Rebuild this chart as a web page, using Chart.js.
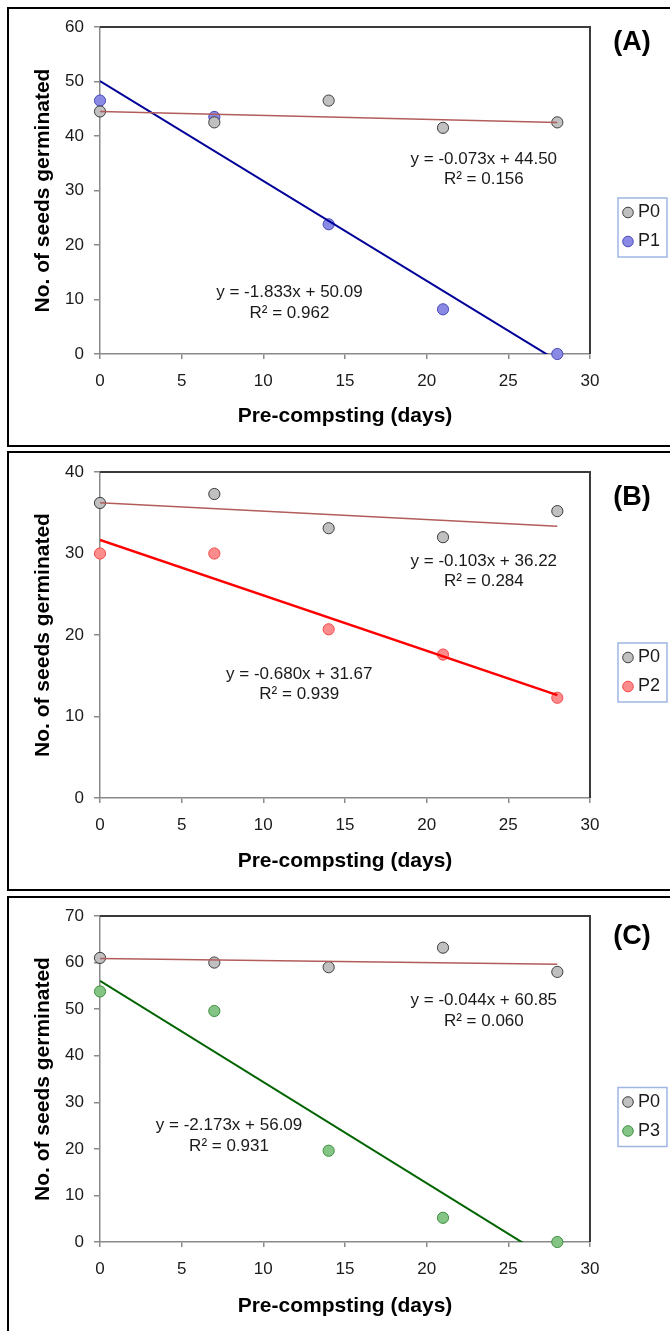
<!DOCTYPE html>
<html><head><meta charset="utf-8">
<script src="https://cdn.jsdelivr.net/npm/chart.js@4.4.1/dist/chart.umd.min.js"></script>
<style>
html,body{margin:0;padding:0;background:#fff;overflow:hidden;width:670px;height:1331px;position:relative}
.frame{position:absolute;left:7px;width:700px;border:2px solid #000;box-sizing:border-box}
.wrap{position:absolute;left:0;width:670px;height:445px}
</style></head><body>
<div class="frame" style="top:7px;height:440px"></div>
<div class="frame" style="top:451px;height:440px"></div>
<div class="frame" style="top:896px;height:500px"></div>
<div class="wrap" style="top:0px"><canvas id="cA"></canvas></div>
<div class="wrap" style="top:445px"><canvas id="cB"></canvas></div>
<div class="wrap" style="top:890px"><canvas id="cC"></canvas></div>
<script>
// ---------- data ----------
const days = [0, 7, 14, 21, 28];
const xMin = 0, xMax = 30, xStep = 5;
const yStep = 10;

// Panel A
const p0A = [44.5, 42.5, 46.5, 41.5, 42.5];
const p1A = [46.5, 43.5, 23.8, 8.2, 0];
const yMaxA = 60;
const fitA0 = [-0.073, 44.50];  // slope, intercept
const fitA1 = [-1.833, 50.09];
const r2A = ['0.156', '0.962'];

// Panel B
const p0B = [36.2, 37.3, 33.1, 32.0, 35.2];
const p2B = [30.0, 30.0, 20.7, 17.6, 12.3];
const yMaxB = 40;
const fitB0 = [-0.103, 36.22];
const fitB2 = [-0.680, 31.67];
const r2B = ['0.284', '0.939'];

// Panel C
const p0C = [61.0, 60.0, 59.0, 63.2, 58.0];
const p3C = [53.8, 49.6, 19.6, 5.2, 0];
const yMaxC = 70;
const fitC0 = [-0.044, 60.85];
const fitC3 = [-2.173, 56.09];
const r2C = ['0.060', '0.931'];

const seriesNames = ['P0', 'P1', 'P2', 'P3'];
const xTitle = 'Pre-compsting (days)';
const yTitle = 'No. of seeds germinated';

// ---------- styles ----------
const FONT = "'Liberation Sans', Arial, Helvetica, sans-serif";
const styles = {
  P0: {bg: '#c0c0c0', bd: '#3c3c3c', line: '#b35c5c', lw: 1.5},
  P1: {bg: '#8a8ae4', bd: '#4a4ab8', line: '#000099', lw: 2},
  P2: {bg: '#ff8c8c', bd: '#f04848', line: '#ff0000', lw: 2.5},
  P3: {bg: '#84c484', bd: '#3f8f3f', line: '#006400', lw: 2}
};

function fmtEq(f) {
  const m = f[0].toFixed(3), b = f[1].toFixed(2);
  return 'y = ' + m + 'x + ' + b;
}
function pts(vals) { return days.map((d, i) => ({x: d, y: vals[i]})); }
function trend(f) { return [{x: days[0], y: f[1] + f[0] * days[0]}, {x: days[days.length - 1], y: f[1] + f[0] * days[days.length - 1]}]; }

const decor = {
  id: 'decor',
  beforeDatasetsDraw(chart, args, o) {
    const {ctx, chartArea: a} = chart;
    ctx.save();
    ctx.strokeStyle = '#3a3a3a'; ctx.lineWidth = 2;
    ctx.beginPath(); ctx.moveTo(a.left, a.top); ctx.lineTo(a.right, a.top); ctx.lineTo(a.right, a.bottom); ctx.stroke();
    ctx.restore();
  },
  afterDraw(chart, args, o) {
    const {ctx, scales} = chart;
    ctx.save();
    ctx.fillStyle = '#1a1a1a';
    ctx.font = '17px ' + FONT;
    ctx.textAlign = 'center'; ctx.textBaseline = 'middle';
    o.eqs.forEach(e => {
      const px = scales.x.getPixelForValue(e.x), py = scales.y.getPixelForValue(e.y);
      e.lines.forEach((t, i) => ctx.fillText(t, px, py + i * 20.5));
    });
    // panel letter
    ctx.fillStyle = '#000';
    ctx.font = 'bold 27px ' + FONT;
    ctx.fillText(o.letter, o.letterX, o.letterY);
    // legend frame
    const lg = chart.legend;
    if (lg && lg.legendHitBoxes && lg.legendHitBoxes.length) {
      const hb = lg.legendHitBoxes;
      const l = hb[0].left - 9, t = hb[0].top - 5.5;
      const b = hb[hb.length - 1].top + hb[hb.length - 1].height + 6.5;
      ctx.strokeStyle = '#9fb6e4'; ctx.lineWidth = 1.5;
      ctx.strokeRect(l, t, 49, b - t);
    }
    ctx.restore();
  }
};

function makeChart(id, cfg) {
  const H = 445, padBottom = 18;
  const s0 = styles.P0, s1 = styles[cfg.name];
  return new Chart(document.getElementById(id), {
    data: {
      datasets: [
        {type: 'scatter', label: 'P0', data: pts(cfg.p0), backgroundColor: s0.bg, borderColor: s0.bd, borderWidth: 1, pointRadius: 5.6, pointStyle: 'circle', clip: false, order: 2},
        {type: 'scatter', label: cfg.name, data: pts(cfg.p1), backgroundColor: s1.bg, borderColor: s1.bd, borderWidth: 1, pointRadius: 5.6, pointStyle: 'circle', clip: false, order: 2},
        {type: 'line', label: 'trend P0', data: trend(cfg.f0), borderColor: s0.line, borderWidth: s0.lw, pointRadius: 0, fill: false, clip: 0, order: 1},
        {type: 'line', label: 'trend ' + cfg.name, data: trend(cfg.f1), borderColor: s1.line, borderWidth: s1.lw, pointRadius: 0, fill: false, clip: 0, order: 1}
      ]
    },
    options: {
      responsive: true, maintainAspectRatio: false, animation: false,
      layout: {padding: {top: cfg.top, bottom: padBottom, left: 0, right: 0}},
      plugins: {
        tooltip: {enabled: false},
        legend: {
          position: 'right', align: 'center',
          labels: {
            usePointStyle: true, boxWidth: 2, boxHeight: 7.5, padding: 11,
            font: {family: FONT, size: 18}, color: '#1a1a1a',
            filter: item => item.datasetIndex < 2
          }
        },
        decor: {
          letter: cfg.letter, letterX: 632, letterY: cfg.letterY,
          eqs: [
            {x: 23.5, y: cfg.eq0y, lines: [fmtEq(cfg.f0), 'R² = ' + cfg.r2[0]]},
            {x: cfg.eq1x, y: cfg.eq1y, lines: [fmtEq(cfg.f1), 'R² = ' + cfg.r2[1]]}
          ]
        }
      },
      scales: {
        x: {
          type: 'linear', position: 'bottom', min: xMin, max: xMax,
          ticks: {stepSize: xStep, font: {family: FONT, size: 17}, color: '#1a1a1a', padding: 12},
          grid: {drawOnChartArea: false, drawTicks: true, tickLength: 5, color: '#8a8a8a', lineWidth: 1.5},
          border: {display: true, color: '#8a8a8a', width: 1.5},
          title: {display: true, text: xTitle, color: '#000', font: {family: FONT, size: 21, weight: 'bold', lineHeight: 1}, padding: {top: 0, bottom: 0}},
          afterFit: s => { s.height = H - padBottom - cfg.bottom; }
        },
        y: {
          type: 'linear', position: 'left', min: 0, max: cfg.yMax,
          ticks: {stepSize: yStep, font: {family: FONT, size: 17}, color: '#1a1a1a', padding: 10},
          grid: {drawOnChartArea: false, drawTicks: true, tickLength: 6, color: '#8a8a8a', lineWidth: 1.5},
          border: {display: true, color: '#8a8a8a', width: 1.5},
          title: {display: true, text: yTitle, color: '#000', font: {family: FONT, size: 21, weight: 'bold', lineHeight: 1}, padding: {top: 32.5, bottom: 0}},
          afterFit: s => { s.width = 100; }
        },
        gap: {
          type: 'linear', position: 'right', display: true,
          ticks: {display: false}, grid: {display: false}, border: {display: false},
          afterFit: s => { s.width = 26; }
        }
      }
    },
    plugins: [decor]
  });
}

makeChart('cA', {name: 'P1', p0: p0A, p1: p1A, f0: fitA0, f1: fitA1, r2: r2A, yMax: yMaxA, top: 27, bottom: 354,
  letter: '(A)', letterY: 43, eq0y: 35.8, eq1x: 11.6, eq1y: 11.25});
makeChart('cB', {name: 'P2', p0: p0B, p1: p2B, f0: fitB0, f1: fitB2, r2: r2B, yMax: yMaxB, top: 27, bottom: 353,
  letter: '(B)', letterY: 53, eq0y: 29.1, eq1x: 12.2, eq1y: 15.2});
makeChart('cC', {name: 'P3', p0: p0C, p1: p3C, f0: fitC0, f1: fitC3, r2: r2C, yMax: yMaxC, top: 26, bottom: 352,
  letter: '(C)', letterY: 47, eq0y: 51.8, eq1x: 7.9, eq1y: 25.0});
</script>
</body></html>
